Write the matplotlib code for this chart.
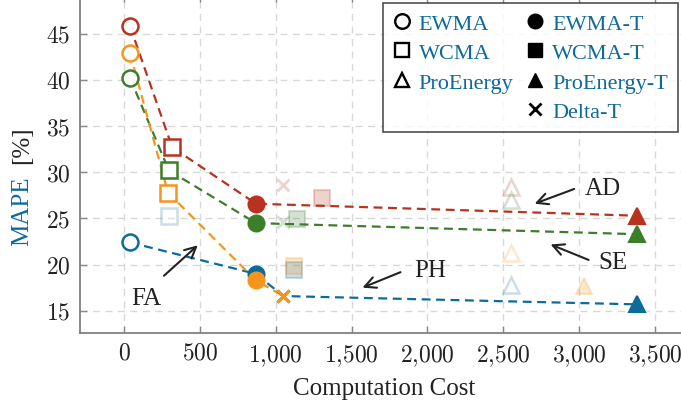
import matplotlib
matplotlib.use("Agg")
import matplotlib.pyplot as plt
from matplotlib.lines import Line2D
from matplotlib.ticker import FuncFormatter

plt.rcParams['font.family'] = ['Liberation Serif', 'DejaVu Serif']
plt.rcParams['mathtext.fontset'] = 'cm'

# ===== Data ============
methods = ["EWMA", "WCMA", "ProEnergy", "EWMA-T", "WCMA-T", "ProEnergy-T", "Delta-T"]
markers = {"EWMA": "o", "WCMA": "s", "ProEnergy": "^",
           "EWMA-T": "o", "WCMA-T": "s", "ProEnergy-T": "^", "Delta-T": "x"}
filled = {"EWMA": False, "WCMA": False, "ProEnergy": False,
          "EWMA-T": True, "WCMA-T": True, "ProEnergy-T": True, "Delta-T": True}

# cost and MAPE per dataset, in the order of `methods`
ad_cost = [40, 318, 2548, 870, 1305, 3380, 1045]
ad_mape = [45.8, 32.7, 28.4, 26.6, 27.2, 25.3, 28.6]
ad_front = ["EWMA", "WCMA", "EWMA-T", "ProEnergy-T"]

se_cost = [40, 296, 2548, 870, 1140, 3380, 1050]
se_mape = [40.2, 30.2, 27.0, 24.5, 24.9, 23.3, 24.6]
se_front = ["EWMA", "WCMA", "EWMA-T", "ProEnergy-T"]

ph_cost = [40, 296, 2548, 870, 1120, 3380, 1050]
ph_mape = [22.4, 25.3, 17.8, 19.0, 19.4, 15.7, 16.6]
ph_front = ["EWMA", "EWMA-T", "Delta-T", "ProEnergy-T"]

fa_cost = [40, 290, 2548, 870, 1120, 3030, 1050]
fa_mape = [42.9, 27.8, 21.3, 18.3, 19.9, 17.7, 16.6]
fa_front = ["EWMA", "WCMA", "EWMA-T", "Delta-T"]

datasets = [
    ("AD", ad_cost, ad_mape, ad_front, "#b8321f"),
    ("SE", se_cost, se_mape, se_front, "#3b7f2b"),
    ("PH", ph_cost, ph_mape, ph_front, "#0d6b9a"),
    ("FA", fa_cost, fa_mape, fa_front, "#f7941d"),
]

# annotation: label, text pos, arrow tail, arrow head
notes = [
    ("FA", (150, 16.4), (250, 18.6), (500, 22.3)),
    ("PH", (2020, 19.4), (1840, 19.3), (1555, 17.4)),
    ("AD", (3155, 28.3), (2985, 28.3), (2690, 26.5)),
    ("SE", (3225, 20.3), (3080, 20.4), (2795, 22.3)),
]

# ===== Plot ============
fig = plt.figure(figsize=(6.81, 4.06), dpi=100)
ax = fig.add_axes([80 / 681, 72 / 406, 608 / 681, 338 / 406])

for name, cost, mape, front, color in datasets:
    fx = [cost[methods.index(m)] for m in front]
    fy = [mape[methods.index(m)] for m in front]
    ax.plot(fx, fy, linestyle=(0, (4, 2.5)), color=color, lw=1.6, zorder=2)
    for i, m in enumerate(methods):
        on_front = m in front
        alpha = 1.0 if on_front else 0.22
        mk = markers[m]
        if mk == "x":
            ax.plot(cost[i], mape[i], marker="x", ms=9, mew=2, color=color,
                    alpha=alpha, zorder=3, linestyle="none")
        elif filled[m]:
            ax.plot(cost[i], mape[i], marker=mk, ms=11.5, mew=1.5, color=color,
                    mec=color, alpha=alpha, zorder=3, linestyle="none")
        else:
            ax.plot(cost[i], mape[i], marker=mk, ms=11.5, mew=1.8, mfc="white",
                    mec=color, alpha=alpha, zorder=3, linestyle="none")

for label, tpos, tail, head in notes:
    ax.annotate("", xy=head, xytext=tail,
                arrowprops=dict(arrowstyle="->", color="#222222", lw=1.5,
                                mutation_scale=20), zorder=4)
    ax.text(tpos[0], tpos[1], label, fontsize=18, ha="center", va="center",
            color="#222222", zorder=4)

ax.set_xlim(-290, 3718)
ax.set_ylim(12.6, 49.2)
ax.set_xticks(range(0, 3501, 500))
ax.set_yticks(range(15, 46, 5))
ax.xaxis.set_major_formatter(FuncFormatter(lambda v, p: r"$%s$" % format(int(v), ",").replace(",", "{,}")))
ax.yaxis.set_major_formatter(FuncFormatter(lambda v, p: r"$%d$" % int(v)))
ax.tick_params(direction="in", length=5, width=1, color="#888888",
               labelsize=17, labelcolor="#222222", top=True, right=True, pad=7)
for s in ax.spines.values():
    s.set_color("#808080")
    s.set_linewidth(1.3)
ax.grid(True, color="#d8d8d8", linestyle=(0, (5, 4)), lw=1)
ax.set_axisbelow(True)

ax.set_xlabel("Computation Cost", fontsize=18, color="#222222", labelpad=6)
fig.text(22 / 681, 1 - 246 / 406, "MAPE", rotation=90, ha="center", va="bottom",
         fontsize=18, color="#0d6b9a")
fig.text(22 / 681, 1 - 164 / 406, "[%]", rotation=90, ha="center", va="bottom",
         fontsize=18, color="#222222")

# legend
handles = []
labels = []
for m in ["EWMA", "WCMA", "ProEnergy"]:
    handles.append(Line2D([], [], marker=markers[m], ms=10.5, mew=1.7, mfc="white",
                          mec="black", linestyle="none"))
    labels.append(m)
handles.append(Line2D([], [], linestyle="none"))
labels.append(" ")
for m in ["EWMA-T", "WCMA-T", "ProEnergy-T", "Delta-T"]:
    if m == "Delta-T":
        h = Line2D([], [], marker="x", ms=8, mew=2, color="black", linestyle="none")
    else:
        h = Line2D([], [], marker=markers[m], ms=10.5, color="black", linestyle="none")
    handles.append(h)
    labels.append(m)

leg = ax.legend(handles, labels, ncol=2, loc="upper right",
                bbox_to_anchor=(1.0 + 8 / 681, 1.0 + 7 / 406), fontsize=16,
                frameon=True, fancybox=False, handlelength=0.8, handletextpad=0.35,
                columnspacing=0.6, labelspacing=0.4, borderpad=0.45,
                bbox_transform=fig.transFigure)
leg.get_frame().set_edgecolor("#222222")
leg.get_frame().set_linewidth(1.2)
leg.set_zorder(5)
for t in leg.get_texts():
    t.set_color("#0d6b9a")

fig.savefig("out.png", dpi=100)
